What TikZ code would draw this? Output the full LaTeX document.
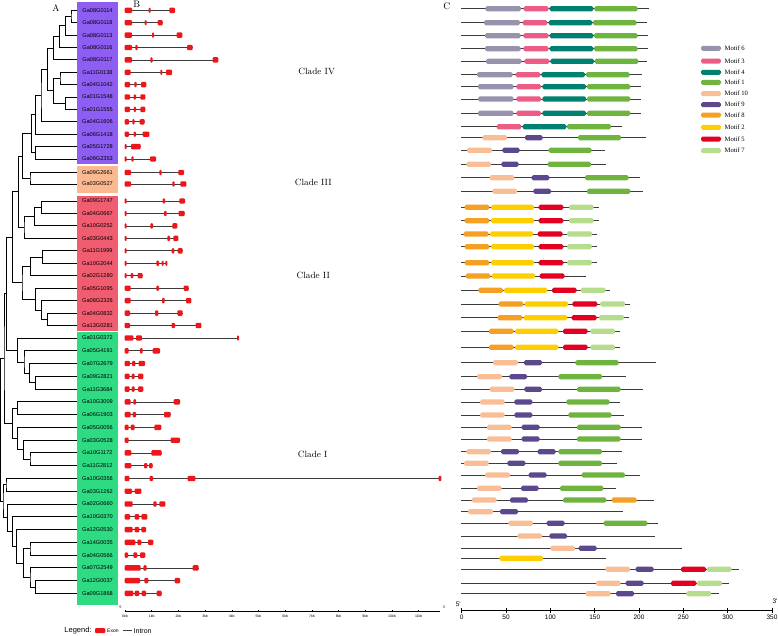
\documentclass[tikz,border=0pt]{standalone}
\usepackage{fontspec}
\newfontfamily\sanslabel{Liberation Sans}
\newfontfamily\seriflabel{Liberation Serif}
\usetikzlibrary{calc,positioning}

\definecolor{cladeIV}{RGB}{142,94,242}
\definecolor{cladeIII}{RGB}{251,185,145}
\definecolor{cladeII}{RGB}{240,92,112}
\definecolor{cladeI}{RGB}{46,218,130}
\definecolor{exonred}{RGB}{237,22,26}
\definecolor{introngray}{RGB}{60,60,60}
\definecolor{m1}{RGB}{112,180,64}
\definecolor{m2}{RGB}{255,206,0}
\definecolor{m3}{RGB}{236,92,132}
\definecolor{m4}{RGB}{0,128,112}
\definecolor{m5}{RGB}{228,0,32}
\definecolor{m6}{RGB}{152,146,172}
\definecolor{m7}{RGB}{182,220,142}
\definecolor{m8}{RGB}{245,160,34}
\definecolor{m9}{RGB}{92,72,140}
\definecolor{m10}{RGB}{250,190,150}

\tikzset{
    % tree and labels
    branch/.style={line width=0.9pt},
    gene/.style={font=\sanslabel\fontsize{5.6}{5.6}\selectfont, minimum width=40.4pt,
                 inner sep=0pt},
    panel/.style={font=\fontsize{9.5}{9.5}\selectfont},
    cladename/.style={font=\fontsize{9}{9}\selectfont},
    % gene structure
    exon/.style={fill=exonred, rounded corners=1pt},
    intron/.style={draw=introngray, line width=0.8pt},
    kblabel/.style={font=\sanslabel\fontsize{3.5}{3.5}\selectfont},
    % motifs
    motif/.style={rounded corners=1.6pt},
    backbone/.style={draw=introngray, line width=0.9pt},
    motiflabel/.style={font=\seriflabel\fontsize{6.6}{6.6}\selectfont, anchor=west, inner sep=0pt},
    aalabel/.style={font=\sanslabel\fontsize{6.5}{6.5}\selectfont},
}

% join two children into a clade at a given x
\newcommand{\joinclade}[4]{%
    \path let \p1=($(#3)!.5!(#4)$) in coordinate (#1) at (#2pt,\y1);
    \draw[branch] (#3) -| (#1) |- (#4);}

\begin{document}
\begin{tikzpicture}[x=1pt,y=-1pt]
    \useasboundingbox (0,0) rectangle (778,635);

    % Clade boxes
    \fill[cladeIV] (77.3,1.7) rectangle (117.7,164.3);
    \fill[cladeIII] (77.3,165.7) rectangle (117.7,192.5);
    \fill[cladeII] (77.3,195.7) rectangle (117.7,331);
    \fill[cladeI] (77.3,332) rectangle (117.7,604.5);

    % Genes: name, exons and introns
    \foreach \i/\y/\g/\e/\ex in {
        1/10.3/Ga08G0114/195/{44/66,116/122,178/195},
        2/22.7/Ga08G0118/158/{44/66,104/110,143/158},
        3/35.1/Ga08G0113/217/{44/66,126/132,200/217},
        4/47.5/Ga08G0116/248/{44/66,76/83,231/248},
        5/59.9/Ga08G0117/325/{44/66,121/128,308/325},
        6/72.3/Ga11G0138/186/{44/62,151/157,168/186},
        7/84.6/Ga04G1042/109/{44/60,73/80,93/109},
        8/97.0/Ga01G1548/106/{44/60,71/78,91/106},
        9/109.4/Ga01G1555/106/{44/60,71/78,91/106},
        10/121.8/Ga04G1606/104/{44/57,67/74,89/104},
        11/134.2/Ga06G1418/118/{44/57,71/78,98/118},
        12/146.6/Ga05G1728/92/{44/50,63/92},
        13/159.0/Ga09G2353/138/{44/50,64/71,120/138},
        14/172.5/Ga09G2661/222/{44/63,148/155,205/222},
        15/184.0/Ga03G0527/229/{44/63,187/194,211/229},
        16/201.0/Ga09G1747/225/{44/50,158/165,208/225},
        17/213.5/Ga04G0667/224/{44/50,162/170,206/224},
        18/225.9/Ga10G0252/202/{44/50,121/129,187/202},
        19/238.4/Ga03G0443/205/{44/50,172/180,190/205},
        20/250.8/Ga11G1999/218/{44/50,185/193,203/218},
        21/263.3/Ga10G2044/172/{44/50,139/147,155/161,166/172},
        22/275.7/Ga02G1280/98/{44/50,62/70,83/98},
        23/288.2/Ga05G1095/236/{44/62,139/147,221/236},
        24/300.6/Ga08G2326/244/{44/62,156/164,228/244},
        25/313.1/Ga04G0832/218/{44/60,135/145,202/218},
        26/325.5/Ga13G0281/274/{44/60,185/195,257/274},
        27/338.0/Ga01G0372/387/{44/70,78/96,381/387},
        28/350.8/Ga05G4191/150/{44/56,90/98,128/150},
        29/363.5/Ga07G2679/105/{44/60,66/76,86/105},
        30/376.3/Ga09G2821/100/{44/59,65/74,84/100},
        31/389.1/Ga11G3684/100/{44/59,65/74,84/100},
        32/401.9/Ga10G3009/210/{44/62,70/78,191/210},
        33/414.6/Ga06G1903/182/{44/62,68/78,162/182},
        34/427.4/Ga05G0056/154/{44/56,62/74,133/154},
        35/440.2/Ga03G0528/210/{44/56,182/210},
        36/452.9/Ga10G1172/155/{44/64,124/155},
        37/465.7/Ga11G2812/128/{44/64,102/112,117/128},
        38/478.5/Ga10G0356/994/{44/58,119/129,233/256,986/994},
        39/491.2/Ga03G1262/94/{44/66,74/94},
        40/504.0/Ga02G0660/166/{44/68,130/140,148/166},
        41/516.8/Ga10G0370/112/{44/60,74/88,94/112},
        42/529.6/Ga12G0530/108/{44/68,74/88,94/108},
        43/542.3/Ga14G0035/130/{44/76,82/94,114/130},
        44/555.1/Ga04G0566/106/{44/54,70/82,90/106},
        45/567.9/Ga07G2549/266/{44/92,100/110,248/266},
        46/580.6/Ga12G0037/210/{44/90,103/115,194/210},
        47/593.4/Ga09G1868/155/{44/70,74/88,95/108,140/155}}{
        \node[gene] (L\i) at (97.5,\y) {\g};
        \begin{scope}[shift={(110,0)}, xscale=1/3]
            \draw[intron] (44,\y) -- (\e,\y);
            \foreach \a/\b in \ex {\fill[exon] (\a,\y-2.7) rectangle (\b,\y+2.7);}
        \end{scope}
    }

    % Tree, clade IV and III
    \joinclade{a1}{71}{L1.west}{L2.west}
    \joinclade{a2}{65.5}{a1}{L3.west}
    \joinclade{a3}{59.5}{a2}{L4.west}
    \joinclade{a4}{53.5}{a3}{L5.west}
    \joinclade{a5}{60}{L6.west}{L7.west}
    \joinclade{a6}{65.7}{L8.west}{L9.west}
    \joinclade{a7}{53.5}{a5}{a6}
    \joinclade{a8}{47.7}{a4}{a7}
    \joinclade{a9}{41}{a8}{L10.west}
    \joinclade{a10}{35.7}{a9}{L11.west}
    \joinclade{a11}{35.7}{L12.west}{L13.west}
    \joinclade{a12}{31.7}{a10}{a11}
    \joinclade{a13}{30}{L14.west}{L15.west}
    \joinclade{a14}{22.7}{a12}{a13}
    % clade II
    \joinclade{b1}{41.7}{L16.west}{L17.west}
    \joinclade{b2}{34.3}{b1}{L18.west}
    \joinclade{b3}{24}{b2}{L19.west}
    \joinclade{b4}{42.3}{L20.west}{L21.west}
    \joinclade{b5}{30.3}{b4}{L22.west}
    \joinclade{b6}{47.7}{L25.west}{L26.west}
    \joinclade{b7}{41.3}{L24.west}{b6}
    \joinclade{b8}{35.7}{L23.west}{b7}
    \joinclade{b9}{22}{b5}{b8}
    \joinclade{c1}{18.3}{a14}{b3}
    \joinclade{c2}{12.7}{c1}{b9}
    % clade I
    \joinclade{g1}{35.7}{L30.west}{L31.west}
    \joinclade{g2}{29.3}{L29.west}{g1}
    \joinclade{g3}{24}{L28.west}{g2}
    \joinclade{g4}{17.3}{L27.west}{g3}
    \joinclade{g5}{17.3}{L32.west}{L33.west}
    \joinclade{g6}{30}{L36.west}{L37.west}
    \joinclade{g7}{23.3}{L35.west}{g6}
    \joinclade{g8}{17.3}{L34.west}{g7}
    \joinclade{g9}{12.7}{g5}{g8}
    \joinclade{g10}{6}{L38.west}{L39.west}
    \joinclade{g11}{35.7}{L46.west}{L47.west}
    \joinclade{g12}{30}{L45.west}{g11}
    \joinclade{g13}{30}{L43.west}{L44.west}
    \joinclade{g14}{23.3}{g13}{g12}
    \joinclade{g15}{16.7}{L42.west}{g14}
    \joinclade{g16}{12.7}{L41.west}{g15}
    \joinclade{g17}{7.3}{L40.west}{g16}
    \joinclade{g18}{3}{g10}{g17}
    \joinclade{u1}{6.5}{c2}{g4}
    \joinclade{u2}{4}{u1}{g9}
    \joinclade{root}{0.8}{u2}{g18}

    % Motifs
    \foreach \y/\e/\ms in {
        8.7/597/{106/213/m6,221/296/m3,299/430/m4,433/563/m1},
        22.7/590/{102/210/m6,218/292/m3,296/427/m4,429/560/m1},
        35.7/593/{105/212/m6,220/296/m3,299/430/m4,432/563/m1},
        48.7/593/{105/212/m6,220/296/m3,299/430/m4,432/563/m1},
        61.3/591/{108/215/m6,223/298/m3,301/432/m4,434/565/m1},
        74.7/575/{81/188/m6,197/271/m3,274/405/m4,408/539/m1},
        86.7/572/{84/191/m6,199/273/m3,277/408/m4,411/541/m1},
        99.0/572/{84/191/m6,199/273/m3,277/408/m4,411/541/m1},
        113.3/572/{84/191/m6,199/273/m3,277/408/m4,411/541/m1},
        126.7/516/{140/214/m3,218/349/m4,351/483/m1},
        137.7/587/{97/171/m10,225/278/m9,384/513/m1},
        150.3/466/{51/126/m10,157/209/m9,296/425/m1},
        164.3/469/{49/123/m10,154/206/m9,293/423/m1},
        177.7/571/{119/193/m10,245/298/m9,405/536/m1},
        191.3/580/{127/201/m10,250/303/m9,411/541/m1},
        207.3/446/{44/118/m8,123/252/m2,266/340/m5,357/431/m7},
        220.7/446/{44/118/m8,123/252/m2,266/340/m5,357/431/m7},
        234.0/440/{41/116/m8,120/249/m2,263/338/m5,351/426/m7},
        246.7/440/{44/118/m8,123/252/m2,266/340/m5,351/426/m7},
        262.7/440/{44/118/m8,123/252/m2,266/340/m5,351/426/m7},
        276.0/408/{47/121/m8,125/255/m2,269/344/m5},
        290.3/480/{85/159/m8,162/292/m2,306/380/m5,392/467/m7},
        304.0/540/{146/220/m8,224/354/m2,367/442/m5,450/525/m7},
        317.7/538/{143/217/m8,221/351/m2,365/440/m5,447/522/m7},
        331.3/510/{117/191/m8,195/325/m2,339/413/m5,421/495/m7},
        347.3/510/{117/191/m8,195/325/m2,339/413/m5,421/495/m7},
        362.7/617/{129/204/m10,222/276/m9,376/506/m1},
        376.7/527/{81/156/m10,178/231/m9,325/456/m1},
        389.3/580/{119/193/m10,223/276/m9,381/512/m1},
        402.0/510/{90/164/m10,193/247/m9,349/479/m1},
        415.0/521/{90/164/m10,193/247/m9,355/485/m1},
        427.3/575/{111/185/m10,215/269/m9,381/512/m1},
        439.0/575/{111/185/m10,215/269/m9,381/512/m1},
        451.7/516/{49/123/m10,153/207/m9,263/317/m9,325/456/m1},
        463.3/500/{42/116/m10,172/226/m9,325/456/m1},
        475.0/570/{105/180/m10,236/290/m9,395/525/m1},
        488.3/497/{81/155/m10,213/266/m9,330/460/m1},
        500.0/612/{65/140/m10,180/234/m9,339/469/m1,485/560/m8},
        511.7/518/{54/129/m10,150/204/m9},
        523.3/623/{175/249/m10,290/344/m9,461/592/m1},
        536.0/615/{202/276/m10,298/351/m9},
        548.3/695/{301/375/m10,386/440/m9},
        558.3/467/{148/279/m2},
        569.3/868/{466/540/m10,557/611/m9,693/768/m5,771/845/m7},
        583.3/838/{438/512/m10,527/581/m9,663/739/m5,741/816/m7},
        593.7/806/{407/482/m10,498/552/m9,709/783/m7}}{
        \begin{scope}[shift={(450,0)}, xscale=1/3]
            \draw[backbone] (33,\y) -- (\e,\y);
            \foreach \a/\b/\c in \ms {\fill[motif,\c] (\a,\y-2.6) rectangle (\b,\y+2.6);}
        \end{scope}
    }

    % Motif legend
    \foreach \c/\t/\y in {m6/Motif 6/48.3, m3/Motif 3/61, m4/Motif 4/72.3, m1/Motif 1/82.3,
        m10/Motif 10/93.7, m9/Motif 9/104.7, m8/Motif 8/115, m2/Motif 2/127.3,
        m5/Motif 5/139, m7/Motif 7/150.7}{
        \fill[motif,\c] (701,\y-2.5) rectangle (721,\y+2.5);
        \node[motiflabel] (leg\c) at (724.5,\y) {\t};
    }

    % Scale of gene structures
    \draw[line width=0.8pt] (125,611.7) -- (440,611.7);
    \foreach \k in {0,...,11} {
        \draw[line width=0.5pt] (125+26.7*\k,611.7) -- ++(0,-2.2);
        \node[kblabel] (kb\k) at (125+26.7*\k,616.7) {\k kb};
    }
    \node[kblabel] (fiveB) at (120.7,607) {5'};
    \node[kblabel] (threeB) at (444.3,607) {3'};

    % Scale of motifs
    \draw[line width=0.8pt] (461.7,610.7) -- (772,610.7);
    \foreach \v in {0,50,...,350} {
        \draw[line width=0.6pt] (461.7+0.8866*\v,608.2) -- (461.7+0.8866*\v,612.6);
        \node[aalabel] (aa\v) at (461.7+0.8866*\v,617.5) {\v};
    }
    \node[aalabel] (fiveC) at (458.3,604.5) {5'};
    \node[aalabel] (threeC) at (775,601.5) {3'};

    % Exon/intron legend
    \node[font=\sanslabel\fontsize{7.5}{7.5}\selectfont] (legend) at (78,630.5) {Legend:};
    \fill[exon] (95,628.2) rectangle (105.3,633);
    \node[font=\sanslabel\fontsize{5}{5}\selectfont, anchor=west, inner sep=0pt] (exonT) at (107,630.7) {Exon};
    \coordinate (intronA) at (123.3,630.7);
    \coordinate (intronB) at (131.7,630.7);
    \draw[intron] (intronA) -- (intronB);
    \node[font=\sanslabel\fontsize{7}{7}\selectfont, anchor=west, inner sep=0pt] (intronT) at (133.5,630.7) {Intron};

    % Panels and clades
    \node[panel] (pA) at (56,8.3) {A};
    \node[panel] (pB) at (136.7,4.5) {B};
    \node[panel] (pC) at (446.7,6.7) {C};
    \node[cladename] (cIV) at (316.7,71) {Clade IV};
    \node[cladename] (cIII) at (313.3,182.7) {Clade III};
    \node[cladename] (cII) at (313.3,275.3) {Clade II};
    \node[cladename] (cI) at (312.7,454) {Clade I};
\end{tikzpicture}
\end{document}
